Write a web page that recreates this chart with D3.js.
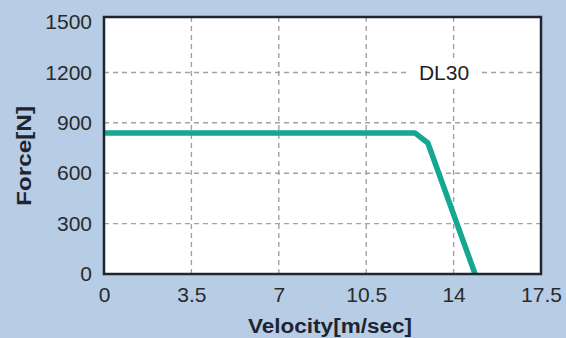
<!DOCTYPE html>
<html><head><meta charset="utf-8">
<script src="https://cdn.jsdelivr.net/npm/d3@7"></script>
<style>body{margin:0;background:#b7cde5;}svg{display:block;}</style>
</head><body>
<svg id="c" width="566" height="338"></svg>
<script>
const velocity = [0, 12.45, 12.97, 14.86];
const force = [840, 840, 780, 0];
const xTicks = [0, 3.5, 7, 10.5, 14, 17.5];
const yTicks = [0, 300, 600, 900, 1200, 1500];
const seriesName = "DL30";

const FONT = "Liberation Sans, Arial, Helvetica, sans-serif";
const svg = d3.select("#c");
const L = 104, R = 541, T = 17, B = 274;
const x = d3.scaleLinear().domain([0, 17.5]).range([L, R]);
const y = d3.scaleLinear().domain([0, 1530]).range([B, T]);

svg.append("rect").attr("width", 566).attr("height", 338).attr("fill", "#b7cde5");
svg.append("rect").attr("x", L).attr("y", T).attr("width", R - L).attr("height", B - T).attr("fill", "#fff");

const g = svg.append("g");
g.selectAll(".vg").data(xTicks.slice(1, -1)).enter().append("line")
  .attr("x1", d => x(d)).attr("x2", d => x(d)).attr("y1", T).attr("y2", B)
  .attr("stroke", "#a2a2a2").attr("stroke-width", 1.4).attr("stroke-dasharray", "5,4");
g.selectAll(".hg").data(yTicks.slice(1, -1)).enter().append("line")
  .attr("y1", d => y(d)).attr("y2", d => y(d)).attr("x1", L).attr("x2", R)
  .attr("stroke", "#a2a2a2").attr("stroke-width", 1.4).attr("stroke-dasharray", "5,4");

// label with white background
const lbl = svg.append("g");
lbl.append("rect").attr("x", 410).attr("y", 60).attr("width", 68).attr("height", 25).attr("fill", "#fff");
lbl.append("text").attr("x", 444).attr("y", 80).attr("text-anchor", "middle")
  .attr("font-family", FONT).attr("font-size", 21).attr("fill", "#222").text(seriesName);

const pts = velocity.map((v, i) => [v, force[i]]);
svg.append("path").datum(pts)
  .attr("d", d3.line().x(d => x(d[0])).y(d => y(d[1])))
  .attr("fill", "none").attr("stroke", "#13a88f").attr("stroke-width", 5.5).attr("stroke-linejoin", "round");

// frame
svg.append("rect").attr("x", L).attr("y", T).attr("width", R - L).attr("height", B - T)
  .attr("fill", "none").attr("stroke", "#1e2630").attr("stroke-width", 2.5);

const xAxis = svg.append("g").attr("transform", `translate(0,${B})`)
  .call(d3.axisBottom(x).tickValues(xTicks).tickSize(0).tickPadding(13).tickFormat(d => d));
const yAxis = svg.append("g").attr("transform", `translate(${L},0)`)
  .call(d3.axisLeft(y).tickValues(yTicks).tickSize(0).tickPadding(12).tickFormat(d => d));
[xAxis, yAxis].forEach(a => {
  a.select(".domain").remove();
  a.selectAll("text").attr("font-family", FONT).attr("font-size", 21).attr("fill", "#2a2a2a");
});

svg.append("text").attr("x", 330).attr("y", 333).attr("text-anchor", "middle")
  .attr("font-family", FONT).attr("font-size", 20).attr("font-weight", "bold")
  .attr("textLength", 164).attr("lengthAdjust", "spacingAndGlyphs")
  .attr("fill", "#1f2430").text("Velocity[m/sec]");
svg.append("text").attr("transform", "translate(31,156) rotate(-90)").attr("text-anchor", "middle")
  .attr("font-family", FONT).attr("font-size", 20).attr("font-weight", "bold")
  .attr("textLength", 100).attr("lengthAdjust", "spacingAndGlyphs")
  .attr("fill", "#1f2430").text("Force[N]");
</script>
</body></html>
